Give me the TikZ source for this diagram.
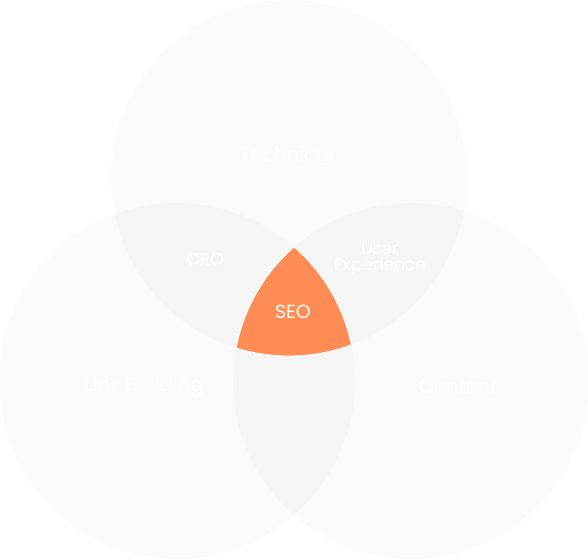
\documentclass[tikz,border=0pt]{standalone}
\usepackage{fontspec}
\setmainfont{Poppins}
\definecolor{seoorange}{HTML}{FF8C55}
\begin{document}
\begin{tikzpicture}[x=1pt,y=-1pt,
  circ/.style={fill=black,fill opacity=0.02,draw=none},
  lbl/.style={text=white,font=\fontsize{19.5}{23}\selectfont,align=center},
  pairlbl/.style={text=white,font=\fontsize{17}{16}\selectfont,align=center}]
\fill[white] (0,0) rectangle (588,559);
\useasboundingbox (0,0) rectangle (588,559);
\coordinate (ct) at (289,178);
\coordinate (cl) at (177,381);
\coordinate (cr) at (411,381);
\def\rad{178}
\fill[circ] (ct) circle (\rad);
\fill[circ] (cl) circle (\rad);
\fill[circ] (cr) circle (\rad);
\begin{scope}
  \clip (ct) circle (\rad);
  \clip (cl) circle (\rad);
  \fill[seoorange,draw=white,line width=1.2pt] (cr) circle (\rad);
\end{scope}
\begin{scope}
  \clip (ct) circle (\rad);
  \clip (cr) circle (\rad);
  \draw[white,line width=0.8pt] (cl) circle (\rad);
\end{scope}
\begin{scope}
  \clip (cl) circle (\rad);
  \clip (cr) circle (\rad);
  \draw[white,line width=0.8pt] (ct) circle (\rad);
\end{scope}
\node[lbl] (tech) at (287,154) {Technical};
\node[lbl] (link) at (144,387) {Link Building};
\node[lbl] (cont) at (458,387) {Content};
\node[pairlbl] (cro) at (205,260) {CRO};
\node[pairlbl] (ux) at (380,259) {User\\Experience};
\node[text=white,font=\fontsize{19}{22}\selectfont] (seo) at (293,312) {SEO};
\end{tikzpicture}
\end{document}
